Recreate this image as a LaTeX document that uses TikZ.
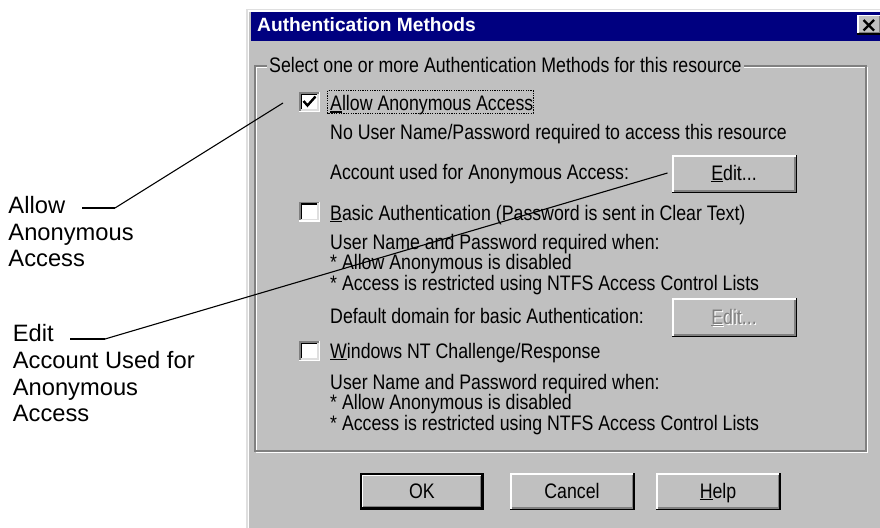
\documentclass[tikz,border=0pt]{standalone}
\usepackage{fontspec}
\setmainfont{Liberation Sans}
\newfontfamily\uifont[FakeStretch=0.845]{Liberation Sans}
\definecolor{dlg}{HTML}{C0C0C0}
\definecolor{dkg}{HTML}{808080}
\definecolor{ltg}{HTML}{DFDFDF}
\definecolor{navy}{HTML}{000080}
\newcommand\ulc[1]{\setbox0=\hbox{#1}\rlap{\rule[-2.2pt]{\wd0}{1.3pt}}#1}
% raised button: x1 y1 x2 y2
\newcommand\wbtn[4]{%
  \fill[dlg] (#1,#2) rectangle (#3,#4);
  \draw[white,line width=1.5pt] (#1+0.75,#4-0.75) -- (#1+0.75,#2+0.75) -- (#3-0.75,#2+0.75);
  \draw[black,line width=1.5pt] (#1,#4-0.75) -- (#3-0.75,#4-0.75) -- (#3-0.75,#2);
  \draw[dkg,line width=1.5pt] (#1+1.5,#4-2.25) -- (#3-2.25,#4-2.25) -- (#3-2.25,#2+1.5);
}
% sunken check box: x1 y1 x2 y2
\newcommand\sunkbox[4]{%
  \fill[white] (#1,#2) rectangle (#3,#4);
  \draw[dkg,line width=1.5pt] (#1+0.75,#4) -- (#1+0.75,#2+0.75) -- (#3,#2+0.75);
  \draw[black,line width=1.5pt] (#1+2.25,#4-1.5) -- (#1+2.25,#2+2.25) -- (#3-1.5,#2+2.25);
  \draw[white,line width=1.5pt] (#1,#4-0.75) -- (#3-0.75,#4-0.75) -- (#3-0.75,#2);
  \draw[ltg,line width=1.5pt] (#1+1.5,#4-2.25) -- (#3-2.25,#4-2.25) -- (#3-2.25,#2+1.5);
}
\begin{document}
\begin{tikzpicture}[x=1pt,y=-1pt,
  ui/.style={font=\uifont\fontsize{21}{24}\selectfont, inner sep=0pt, anchor=base west, text=black},
  btntext/.style={font=\uifont\fontsize{21}{24}\selectfont, inner sep=0pt, anchor=base, text=black},
  lbl/.style={font=\fontsize{23.7}{26.7}\selectfont, inner sep=0pt, anchor=base west, text=black},
  callout/.style={draw=black, line width=1.1pt}]
\useasboundingbox (0,0) rectangle (880,527);
\clip (0,0) rectangle (880,527);
\fill[white] (0,0) rectangle (880,527);

% dialog frame
\fill[dlg] (246,9) rectangle (885,535);
\draw[ltg,line width=1.5pt] (246.75,535) -- (246.75,9.75) -- (885,9.75);
\draw[white,line width=1.5pt] (248.25,535) -- (248.25,11.25) -- (885,11.25);
\fill[navy] (251,12.5) rectangle (885,41);
\node[font=\fontsize{19.2}{22}\selectfont\bfseries, text=white, inner sep=0pt, anchor=base west] (title) at (257,32) {Authentication Methods};

% close button
\wbtn{857}{15}{882}{35}
\draw[black,line width=2.3pt] (863.5,20) -- (874,30.5) (874,20) -- (863.5,30.5);

% group box
\draw[white,line width=1.5pt] (256.5,67.5) rectangle (867.5,452.5);
\draw[dkg,line width=1.5pt] (255,66) rectangle (866,451);
\node[ui, fill=dlg, inner xsep=2pt] (grp) at (267,73) {Select one or more Authentication Methods for this resource};

% option 1
\sunkbox{299}{92}{320}{112}
\draw[black,line width=2.4pt] (303.5,101) -- (307.5,105.5) -- (315.5,96.5);
\node[ui] (r1) at (330,110.5) {\ulc{A}llow Anonymous Access};
\draw[black,line width=0.9pt,dash pattern=on 1.2pt off 1.2pt] (327.5,90.5) rectangle (533,113);
\node[ui] (r2) at (330,139.5) {No User Name/Password required to access this resource};
\node[ui] (r3) at (330,179) {Account used for Anonymous Access:};
\wbtn{672}{155}{797}{193}
\node[btntext] (edit1) at (734,180) {\ulc{E}dit...};

% option 2
\sunkbox{299}{201.5}{320}{221.5}
\node[ui] (r4) at (330,220) {\ulc{B}asic Authentication (Password is sent in Clear Text)};
\node[ui] (r5) at (330,249) {User Name and Password required when:};
\node[ui] (r6) at (330,269) {* Allow Anonymous is disabled};
\node[ui] (r7) at (330,290) {* Access is restricted using NTFS Access Control Lists};
\node[ui] (r8) at (330,323) {Default domain for basic Authentication:};
\wbtn{672}{298}{797}{337}
\node[btntext, text=white] (edit2s) at (735.2,325.2) {\ulc{E}dit...};
\node[btntext, text=dkg] (edit2) at (734,324) {\ulc{E}dit...};

% option 3
\sunkbox{299}{341}{320}{361}
\node[ui] (r9) at (330,358) {\ulc{W}indows NT Challenge/Response};
\node[ui] (r10) at (330,389) {User Name and Password required when:};
\node[ui] (r11) at (330,409) {* Allow Anonymous is disabled};
\node[ui] (r12) at (330,430) {* Access is restricted using NTFS Access Control Lists};

% bottom buttons
\draw[black,line width=1.5pt] (360.75,473.75) rectangle (483.25,509.25);
\wbtn{361.5}{474.5}{482.5}{508.5}
\node[btntext] (ok) at (422,498) {OK};
\wbtn{510}{473}{634.5}{510}
\node[btntext] (cancel) at (572,498) {Cancel};
\wbtn{656}{473}{780.5}{510}
\node[btntext] (help) at (718,498) {\ulc{H}elp};

% callout labels
\node[lbl] (la1) at (8.3,213.3) {Allow};
\node[lbl] (la2) at (8.3,240) {Anonymous};
\node[lbl] (la3) at (8.3,266.7) {Access};
\node[lbl] (le1) at (12.7,341.7) {Edit};
\node[lbl] (le2) at (12.7,368.3) {Account Used for};
\node[lbl] (le3) at (12.7,395) {Anonymous};
\node[lbl] (le4) at (12.7,421.7) {Access};

% callout lines
\coordinate (ca0) at (82,208);
\coordinate (ca1) at (115,208);
\coordinate (ca2) at (283,103);
\coordinate (ce0) at (70,339);
\coordinate (ce1) at (105,339);
\coordinate (ce2) at (667.5,173);
\draw[callout,line width=1.8pt] (ca0) -- (ca1);
\draw[callout] (ca1) -- (ca2);
\draw[callout,line width=1.8pt] (ce0) -- (ce1);
\draw[callout] (ce1) -- (ce2);
\end{tikzpicture}
\end{document}
